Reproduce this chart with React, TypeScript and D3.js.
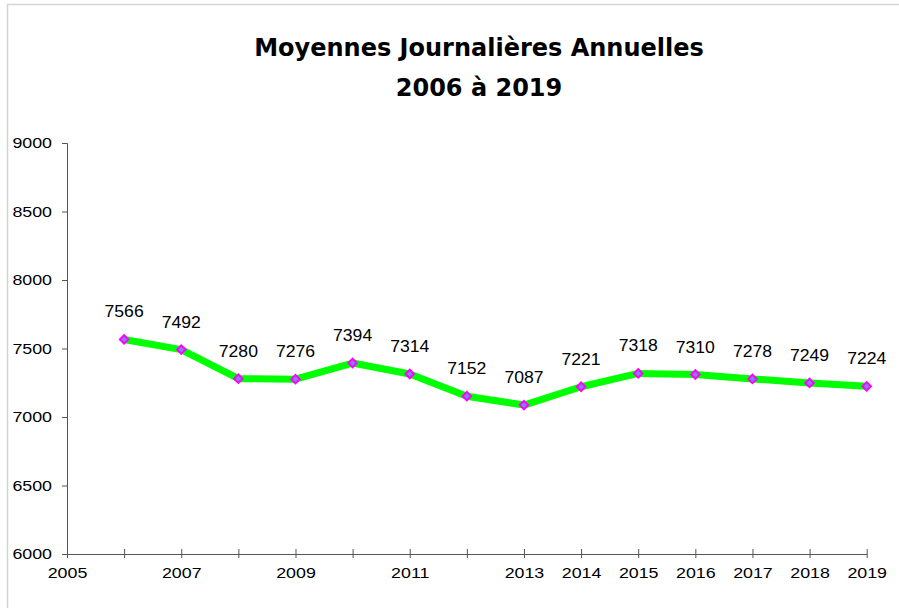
import { useRef, useEffect } from 'react';
import * as d3 from 'd3';

// Annual daily averages, 2006 → 2019
const YEARS = [2006, 2007, 2008, 2009, 2010, 2011, 2012, 2013, 2014, 2015, 2016, 2017, 2018, 2019];
const VALUES = [7566, 7492, 7280, 7276, 7394, 7314, 7152, 7087, 7221, 7318, 7310, 7278, 7249, 7224];
const X_TICKS = [2005, 2006, 2007, 2008, 2009, 2010, 2011, 2012, 2013, 2014, 2015, 2016, 2017, 2018, 2019];
const X_LABELS = [2005, 2007, 2009, 2011, 2013, 2014, 2015, 2016, 2017, 2018, 2019];
const Y_TICKS = [6000, 6500, 7000, 7500, 8000, 8500, 9000];
const TITLE = ['Moyennes Journalières Annuelles', '2006 à 2019'];

function App() {
  const svgRef = useRef<SVGSVGElement>(null);

  useEffect(() => {
    const svg = d3.select(svgRef.current);
    svg.selectAll('*').remove();

    const W = 899, H = 608;
    const left = 67, right = 866.7, top = 143, bottom = 554;
    const sx = 1.15; // the original's Arial text is a bit stretched horizontally

    // outer chart frame (runs off the right/bottom edge)
    svg.append('rect')
      .attr('x', 7.5).attr('y', 4.5)
      .attr('width', W + 10).attr('height', H + 10)
      .attr('fill', 'white')
      .attr('stroke', '#d4d4d4').attr('stroke-width', 1.5);

    // title
    const title = svg.append('text')
      .attr('text-anchor', 'middle')
      .style('font-family', '"Comic Sans MS", "DejaVu Sans", sans-serif')
      .style('font-weight', 'bold')
      .style('font-size', '24px')
      .attr('fill', '#000');
    TITLE.forEach((t, i) => {
      title.append('tspan').attr('x', 479).attr('y', 56 + i * 40).text(t);
    });

    const x = d3.scaleLinear().domain([2005, 2019]).range([left, right]);
    const y = d3.scaleLinear().domain([6000, 9000]).range([bottom, top]);

    const axisColor = '#555';
    const font = '"Liberation Sans", Arial, sans-serif';

    // y axis
    const yAxis = svg.append('g')
      .attr('transform', `translate(${left},0)`)
      .call(d3.axisLeft(y).tickValues(Y_TICKS).tickSize(5).tickPadding(10).tickFormat(d3.format('d')));
    yAxis.select('.domain').attr('stroke', axisColor);
    yAxis.selectAll('.tick line').attr('stroke', axisColor);
    yAxis.selectAll('text')
      .attr('x', -15 / sx)
      .attr('transform', `scale(${sx},1)`)
      .style('font-family', font).style('font-size', '15.5px').attr('fill', '#000');

    // x axis — ticks cross the line, labels only on some years
    const xAxis = svg.append('g')
      .attr('transform', `translate(0,${bottom})`)
      .call(d3.axisBottom(x).tickValues(X_TICKS).tickSize(0)
        .tickFormat(d => (X_LABELS.includes(+d) ? String(d) : '')).tickPadding(13));
    xAxis.select('.domain').attr('stroke', axisColor);
    xAxis.selectAll('.tick').append('line')
      .attr('y1', -5).attr('y2', 4).attr('stroke', axisColor);
    xAxis.selectAll('text')
      .attr('transform', `scale(${sx},1)`)
      .style('font-family', font).style('font-size', '15.5px').attr('fill', '#000');

    // line
    const line = d3.line<number>()
      .x((_, i) => x(YEARS[i]))
      .y(d => y(d));
    svg.append('path')
      .datum(VALUES)
      .attr('d', line)
      .attr('fill', 'none')
      .attr('stroke', '#00ff00')
      .attr('stroke-width', 7)
      .attr('stroke-linejoin', 'round');

    // diamond markers
    const diamond = d3.symbol().type(d3.symbolSquare).size(36);
    svg.selectAll('path.marker')
      .data(VALUES)
      .enter()
      .append('path')
      .attr('class', 'marker')
      .attr('d', diamond)
      .attr('transform', (d, i) => `translate(${x(YEARS[i])},${y(d)}) rotate(45)`)
      .attr('fill', '#8080ff')
      .attr('stroke', '#ff00ff')
      .attr('stroke-width', 2);

    // value labels
    svg.selectAll('text.val')
      .data(VALUES)
      .enter()
      .append('text')
      .attr('class', 'val')
      .attr('transform', (d, i) => `translate(${x(YEARS[i])},${y(d) - 22}) scale(1.1,1)`)
      .attr('text-anchor', 'middle')
      .style('font-family', font)
      .style('font-size', '16px')
      .attr('fill', '#000')
      .text(d => d);
  }, []);

  return (
    <svg ref={svgRef} width={899} height={608}
      style={{ position: 'absolute', left: 0, top: 0, background: 'white' }} />
  );
}

export default App;
